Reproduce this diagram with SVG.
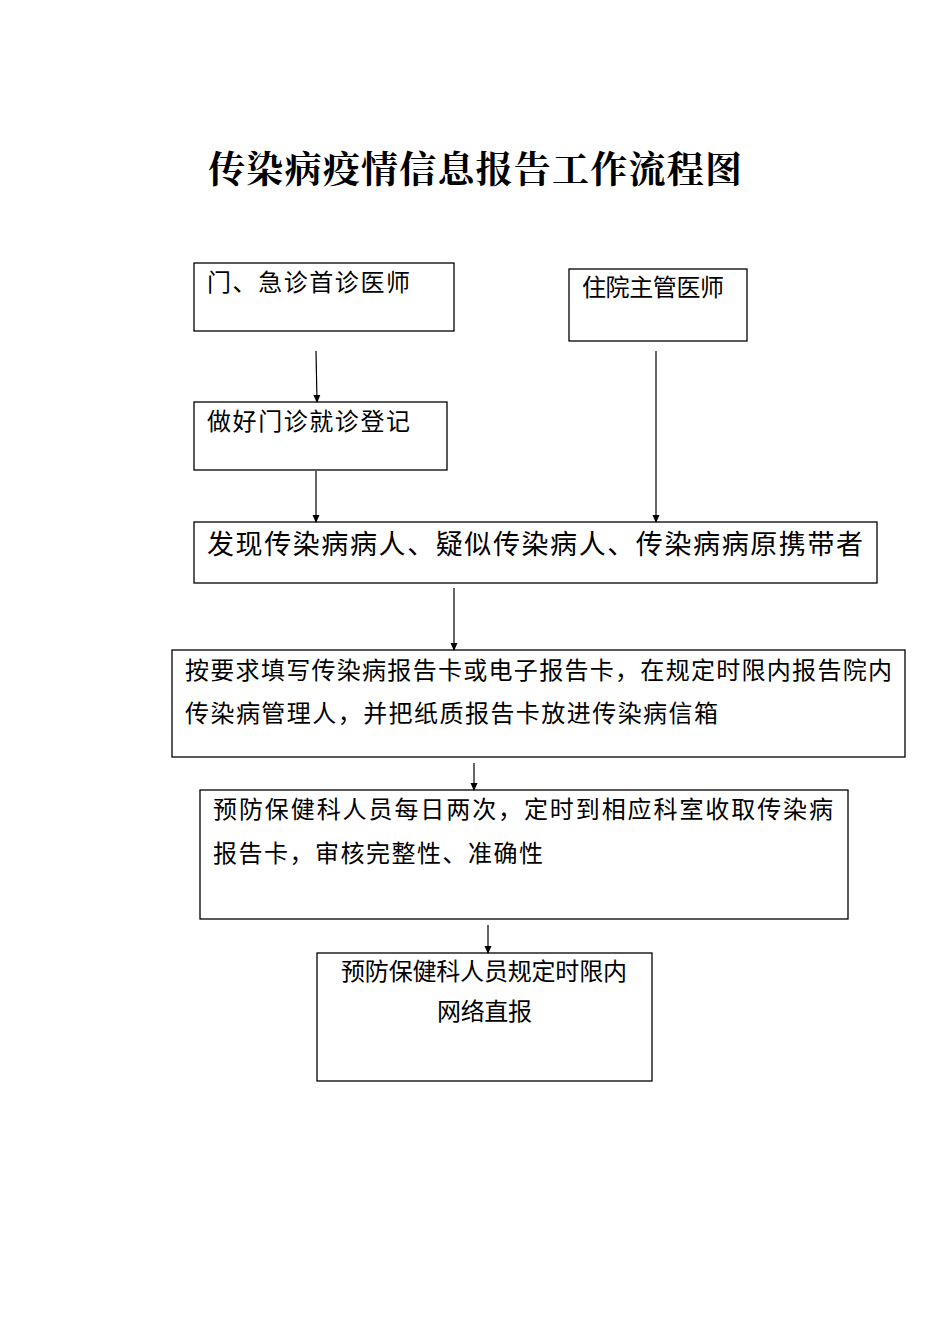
<svg xmlns="http://www.w3.org/2000/svg" width="950" height="1344" viewBox="0 0 950 1344">
<style>
.b{fill:#fff;stroke:#000;stroke-width:1.3}
.t{font-family:"Liberation Sans","Noto Sans CJK SC",sans-serif;font-size:24px;fill:#000}
.c{stroke:#000;stroke-width:1.2;fill:none;marker-end:url(#a)}
</style>
<defs><marker id="a" markerWidth="8" markerHeight="8" refX="7" refY="4" orient="auto" markerUnits="userSpaceOnUse"><path d="M0,0.5L8,4L0,7.5z" fill="#000"/></marker></defs>
<rect width="950" height="1344" fill="#fff"/>
<text x="208" y="183" textLength="534" style="font-family:'Liberation Serif','Noto Serif CJK SC','Noto Sans CJK SC',serif;font-size:37px;font-weight:bold">传染病疫情信息报告工作流程图</text>
<g id="n1"><rect class="b" x="194" y="263" width="260" height="68"/><text class="t" x="207" y="291" textLength="203">门、急诊首诊医师</text></g>
<g id="n2"><rect class="b" x="569" y="269" width="178" height="72"/><text class="t" x="582" y="296" textLength="142">住院主管医师</text></g>
<g id="n3"><rect class="b" x="194" y="402" width="253" height="68"/><text class="t" x="207" y="430" textLength="203">做好门诊就诊登记</text></g>
<g id="n4"><rect class="b" x="194" y="522" width="683" height="61"/><text class="t" x="207" y="554" textLength="656" style="font-size:27px">发现传染病病人、疑似传染病人、传染病病原携带者</text></g>
<g id="n5"><rect class="b" x="172" y="650" width="733" height="107"/><text class="t" x="185" y="679" textLength="707">按要求填写传染病报告卡或电子报告卡，在规定时限内报告院内</text><text class="t" x="185" y="722" textLength="533">传染病管理人，并把纸质报告卡放进传染病信箱</text></g>
<g id="n6"><rect class="b" x="200" y="790" width="648" height="129"/><text class="t" x="213" y="818" textLength="620">预防保健科人员每日两次，定时到相应科室收取传染病</text><text class="t" x="213" y="862" textLength="330">报告卡，审核完整性、准确性</text></g>
<g id="n7"><rect class="b" x="317" y="953" width="335" height="128"/><text class="t" x="341" y="980" textLength="286">预防保健科人员规定时限内</text><text class="t" x="437" y="1020" textLength="95">网络直报</text></g>
<g id="connectors">
<path class="c" d="M316,351L317,402"/>
<path class="c" d="M656,351L656,522"/>
<path class="c" d="M316,471L316,522"/>
<path class="c" d="M454,588L454,650"/>
<path class="c" d="M474,763L474,790"/>
<path class="c" d="M488,925L488,953"/>
</g>
</svg>
